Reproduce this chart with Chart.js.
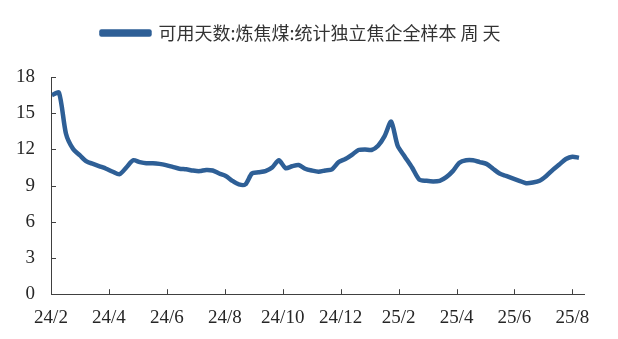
<!DOCTYPE html>
<html>
<head>
<meta charset="utf-8">
<script src="https://cdn.jsdelivr.net/npm/chart.js@4.4.1/dist/chart.umd.min.js"></script>
<style>
  html, body { margin: 0; padding: 0; background: #fff; }
  #wrap { width: 618px; height: 339px; position: relative; }
</style>
</head>
<body>
<div id="wrap"><canvas id="myChart"></canvas></div>
<script>
// weekly series, first week ending 2024-02-02
const seriesName = "可用天数:炼焦煤:统计独立焦企全样本 周 天";
const firstWeek = "2024-02-02";
const days = [
  16.5, 16.7, 13.3, 12.05, 11.5, 11.0, 10.8, 10.6, 10.4, 10.15,
  9.95, 10.5, 11.1, 10.95, 10.85, 10.85, 10.8, 10.7, 10.55, 10.4,
  10.35, 10.25, 10.2, 10.3, 10.25, 10.0, 9.8, 9.4, 9.1, 9.1,
  10.0, 10.1, 10.2, 10.5, 11.1, 10.45, 10.6, 10.7, 10.4, 10.25,
  10.15, 10.25, 10.35, 10.95, 11.2, 11.55, 11.95, 12.0, 11.95, 12.3,
  13.1, 14.3, 12.3, 11.4, 10.5, 9.5, 9.4, 9.35, 9.4, 9.7,
  10.2, 10.9, 11.1, 11.1, 10.95, 10.8, 10.4, 10.0, 9.8, 9.6,
  9.4, 9.2, 9.25, 9.4, 9.8, 10.3, 10.75, 11.2, 11.4, 11.3
];
const xTickLabels = ["24/2", "24/4", "24/6", "24/8", "24/10", "24/12", "25/2", "25/4", "25/6", "25/8"];
const yTickValues = [0, 3, 6, 9, 12, 15, 18];

const lineColor = "#2E5F96";
const axisColor = "#404040";
const textColor = "#262626";

// months counted from Jan 2024 (24/2 -> 1)
function monthPos(d) {
  const inMonth = new Date(d.getFullYear(), d.getMonth() + 1, 0).getDate();
  return (d.getFullYear() - 2024) * 12 + d.getMonth() + (d.getDate() - 1) / inMonth;
}

const start = new Date(firstWeek + "T00:00:00");
const points = days.map((v, i) => {
  const d = new Date(start.getTime());
  d.setDate(d.getDate() + 7 * i);
  return { x: monthPos(d), y: v };
});

const innerTicks = {
  id: "innerTicks",
  afterDraw(chart) {
    const ctx = chart.ctx;
    const xs = chart.scales.x, ys = chart.scales.y;
    ctx.save();
    ctx.strokeStyle = axisColor;
    ctx.lineWidth = 1;
    ctx.beginPath();
    xs.ticks.forEach((t, i) => {
      const px = Math.round(xs.getPixelForTick(i)) + 0.5;
      ctx.moveTo(px, xs.top);
      ctx.lineTo(px, xs.top - 5);
    });
    ys.ticks.forEach((t, i) => {
      const py = Math.round(ys.getPixelForTick(i)) + 0.5;
      ctx.moveTo(ys.right, py);
      ctx.lineTo(ys.right + 5, py);
    });
    ctx.stroke();
    ctx.restore();
  }
};

// extra room under the legend, and nudge it right a little
const legendGap = {
  id: "legendGap",
  beforeInit(chart) {
    const fit = chart.legend.fit;
    chart.legend.fit = function () {
      fit.call(this);
      this.height += 25;
    };
  },
  afterUpdate(chart) {
    chart.legend.left += 9;
    chart.legend.right += 9;
  }
};

new Chart("myChart", {
  type: "line",
  data: {
    datasets: [{
      label: seriesName,
      data: points,
      borderColor: lineColor,
      backgroundColor: lineColor,
      borderWidth: 4.5,
      pointRadius: 0,
      tension: 0.25,
      borderJoinStyle: "round"
    }]
  },
  options: {
    responsive: true,
    maintainAspectRatio: false,
    animation: false,
    layout: { padding: { top: 14, right: 34, bottom: -2, left: 0 } },
    plugins: {
      tooltip: { enabled: false },
      legend: {
        position: "top",
        labels: {
          boxWidth: 48,
          boxHeight: 3,
          padding: 10,
          color: "#333333",
          font: { family: "'Noto Sans CJK SC'", size: 18 }
        }
      }
    },
    scales: {
      x: {
        type: "linear",
        min: 1,
        max: 19.4,
        afterBuildTicks(scale) {
          scale.ticks = xTickLabels.map((s, i) => ({ value: 1 + 2 * i }));
        },
        ticks: {
          padding: 12,
          color: textColor,
          maxRotation: 0,
          autoSkip: false,
          font: { family: "'Liberation Serif'", size: 19 },
          callback: (v) => xTickLabels[(v - 1) / 2]
        },
        grid: { display: true, drawOnChartArea: false, drawTicks: false },
        border: { display: true, color: axisColor, width: 1 }
      },
      y: {
        min: 0,
        max: 18,
        afterBuildTicks(scale) {
          scale.ticks = yTickValues.map(v => ({ value: v }));
        },
        ticks: {
          padding: 16,
          color: textColor,
          font: { family: "'Liberation Serif'", size: 19 }
        },
        grid: { display: true, drawOnChartArea: false, drawTicks: false },
        border: { display: true, color: axisColor, width: 1 }
      }
    }
  },
  plugins: [innerTicks, legendGap]
});
</script>
</body>
</html>
